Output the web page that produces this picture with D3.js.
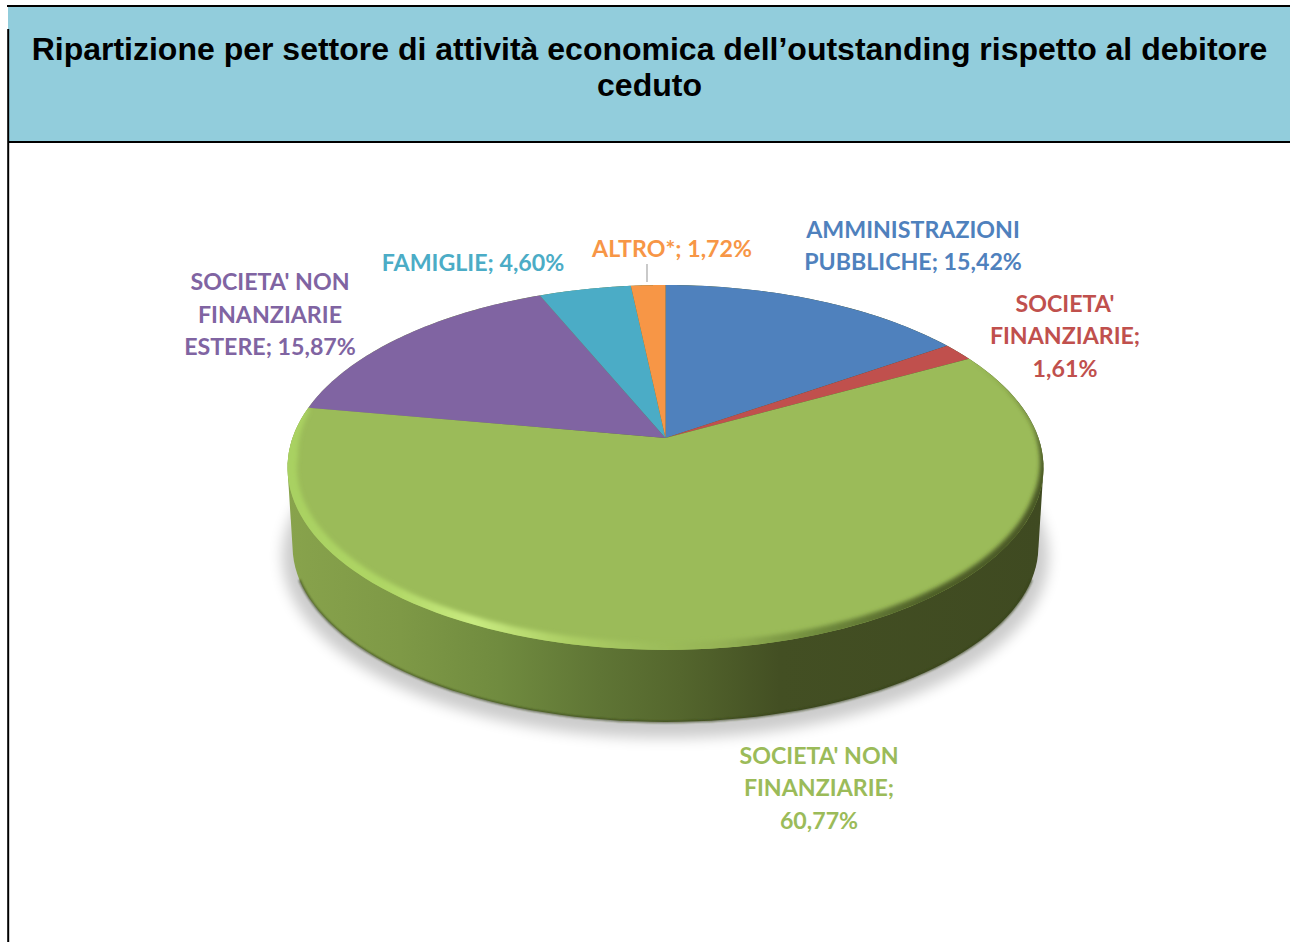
<!DOCTYPE html>
<html>
<head>
<meta charset="utf-8">
<script src="https://cdnjs.cloudflare.com/ajax/libs/d3/7.8.5/d3.min.js"></script>
<style>
  html, body { margin: 0; padding: 0; background: #fff; overflow: hidden; }
  svg { display: block; }
</style>
</head>
<body>
<svg id="chart" width="1290" height="942"></svg>
<script>
const titleLines = ["Ripartizione per settore di attività economica dell’outstanding rispetto al debitore", "ceduto"];
const categories = ["AMMINISTRAZIONI PUBBLICHE", "SOCIETA' FINANZIARIE", "SOCIETA' NON FINANZIARIE", "SOCIETA' NON FINANZIARIE ESTERE", "FAMIGLIE", "ALTRO*"];
const values = [15.42, 1.61, 60.77, 15.87, 4.60, 1.72];
const colors = ["#4f81bd", "#c0504d", "#9bbb59", "#8064a2", "#4bacc6", "#f79646"];
// "#" gets replaced by the formatted value
const labelLines = [
  ["AMMINISTRAZIONI", "PUBBLICHE; #"],
  ["SOCIETA'", "FINANZIARIE;", "#"],
  ["SOCIETA' NON", "FINANZIARIE;", "#"],
  ["SOCIETA' NON", "FINANZIARIE", "ESTERE; #"],
  ["FAMIGLIE; #"],
  ["ALTRO*; #"]
];
const labelX = [913, 1065, 819, 270, 473, 672];
const labelTop = [229.5, 303.5, 755.5, 282, 262.5, 248.5];

const svg = d3.select("#chart");
const defs = svg.append("defs");
const color = d3.scaleOrdinal().domain(categories).range(colors);
const pct = v => v.toFixed(2).replace(".", ",") + "%";

// pie lies on a tilted disc, k is the perspective foreshortening
const k = 0.1616;
function project(angle, r, o) {
  const x = Math.sin(angle) * r, y = Math.cos(angle) * r;
  const w = 1 + k * y;
  return [o.cx + o.sx * x / w, o.cy - o.sy * y / w];
}
const topFace = { cx: 665.5, cy: 438, sx: 373, sy: 177.7 };
const bottomFace = { cx: 665.5, cy: 518, sx: 368, sy: 171 };
const shadowFace = { cx: 665.5, cy: 527, sx: 378, sy: 177 };

const steps = d3.range(0, 361, 2).map(d => d * Math.PI / 180);
const line = d3.line();
const rim = o => steps.map(a => project(a, 1, o));

const pieData = d3.pie().sort(null).value(d => d.value)(categories.map((c, i) => ({ name: c, value: values[i] })));
const sliceAngles = d => d3.range(0, 61).map(i => d.startAngle + (d.endAngle - d.startAngle) * i / 60);
const slicePath = d => line([[topFace.cx, topFace.cy], ...sliceAngles(d).map(a => project(a, 1, topFace))]) + "Z";

// filters
function blur(id, dev) {
  defs.append("filter").attr("id", id)
    .attr("x", "-10%").attr("y", "-20%").attr("width", "120%").attr("height", "140%")
    .append("feGaussianBlur").attr("stdDeviation", dev);
}
blur("shadowBlur", 7);
blur("rimBlur", 2.2);
blur("edgeBlur", 1);

function hGradient(id, stops) {
  const g = defs.append("linearGradient").attr("id", id)
    .attr("gradientUnits", "userSpaceOnUse")
    .attr("x1", 287).attr("x2", 1044).attr("y1", 0).attr("y2", 0);
  stops.forEach(s => g.append("stop").attr("offset", (s[0] - 287) / 757).attr("stop-color", s[1]));
}
hGradient("wallGrad", [[287, "#88a34c"], [400, "#7e9946"], [500, "#708b3f"], [600, "#5f7535"], [680, "#54662d"], [780, "#434f23"], [1044, "#3f4a21"]]);

defs.append("clipPath").attr("id", "topClip").append("path").attr("d", line(rim(topFace)) + "Z");

// header band
svg.append("rect").attr("x", 8).attr("y", 6).attr("width", 1282).attr("height", 136).attr("fill", "#92cddc");
svg.append("line").attr("x1", 7).attr("x2", 1290).attr("y1", 6).attr("y2", 6).attr("stroke", "#000").attr("stroke-width", 2);
svg.append("line").attr("x1", 8).attr("x2", 1290).attr("y1", 142).attr("y2", 142).attr("stroke", "#000").attr("stroke-width", 2);
svg.append("line").attr("x1", 8.2).attr("x2", 8.2).attr("y1", 29).attr("y2", 942).attr("stroke", "#000").attr("stroke-width", 2);

svg.append("g").selectAll("text").data(titleLines).join("text")
  .attr("x", 649.5)
  .attr("y", (d, i) => 60 + i * 36)
  .attr("text-anchor", "middle")
  .attr("font-family", "'Liberation Sans', Arial, sans-serif")
  .attr("font-weight", "bold")
  .attr("font-size", 32)
  .attr("fill", "#000")
  .text(d => d);

// drop shadow
svg.append("path").attr("d", line(rim(shadowFace)) + "Z")
  .attr("fill", "#000").attr("opacity", 0.2).attr("filter", "url(#shadowBlur)");

// side wall
const hull = d3.polygonHull(rim(topFace).concat(rim(bottomFace)));
svg.append("path").attr("d", line(hull) + "Z").attr("fill", "url(#wallGrad)");

// dark bottom edge of the wall
const lowerAngles = d3.range(110, 251, 2).map(d => d * Math.PI / 180);
svg.append("path").attr("d", line(lowerAngles.map(a => project(a, 1, bottomFace))))
  .attr("fill", "none").attr("stroke", "#34401a").attr("stroke-width", 1.5).attr("filter", "url(#edgeBlur)");

// top face
svg.append("g").selectAll("path").data(pieData).join("path")
  .attr("d", slicePath)
  .attr("fill", d => color(d.data.name));

// bevel along the rim of the big slice, light on the left, dark on the right,
// tapering out towards both ends of the slice
const green = pieData[2];
const rimColor = d3.scaleLinear()
  .domain([287, 380, 470, 560, 640, 720, 820, 930, 1044])
  .range(["#a9d162", "#afd665", "#c8ea80", "#aed066", "#9fc05c", "#95b355", "#6f8a3c", "#4e5e28", "#4a5825"])
  .clamp(true);
const rimWidth = d3.scaleLinear()
  .domain([green.startAngle, 1.5, 1.9, Math.PI, 4.6, green.endAngle])
  .range([0, 2, 11, 15, 19, 4]);
const bevelAngles = d3.range(green.startAngle, green.endAngle, 0.02);
svg.append("g").attr("clip-path", "url(#topClip)")
  .append("g").attr("filter", "url(#rimBlur)")
  .selectAll("path").data(d3.pairs(bevelAngles)).join("path")
  .attr("d", d => line(d.map(a => project(a, 1, topFace))))
  .attr("fill", "none")
  .attr("stroke-linecap", "round")
  .attr("stroke", d => rimColor(project(d[0], 1, topFace)[0]))
  .attr("stroke-width", d => rimWidth(d[0]));

// leader line for ALTRO
svg.append("line").attr("x1", 647).attr("x2", 647).attr("y1", 264).attr("y2", 282)
  .attr("stroke", "#a6a6a6").attr("stroke-width", 1.2);

// data labels
const labels = svg.append("g")
  .attr("font-family", "Lato, Carlito, Calibri, sans-serif")
  .attr("font-weight", "bold")
  .attr("font-size", 23.2)
  .attr("text-anchor", "middle");
labelLines.forEach((lines, i) => {
  labels.append("g").selectAll("text").data(lines).join("text")
    .attr("x", labelX[i])
    .attr("y", (d, j) => labelTop[i] + 8 + j * 32.6)
    .attr("fill", colors[i])
    .text(d => d.replace("#", pct(values[i])));
});
</script>
</body>
</html>
